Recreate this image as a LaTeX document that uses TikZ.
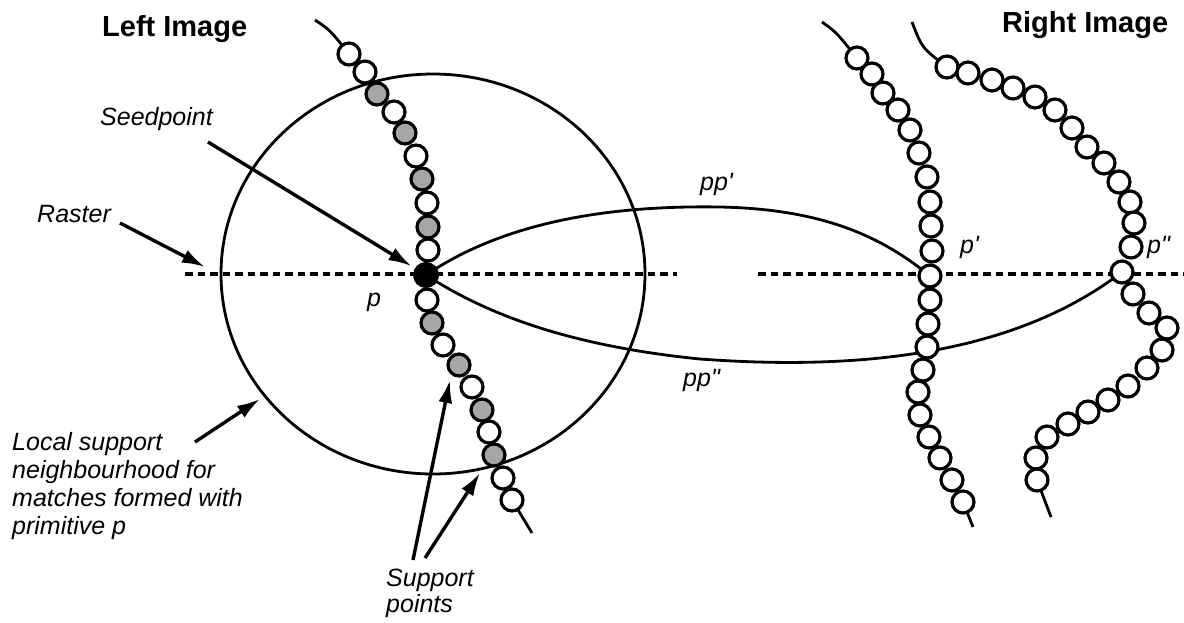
\documentclass[tikz,border=0pt]{standalone}
\usepackage{fontspec}
\setmainfont{Liberation Sans}[Ligatures=TeXOff]
\usetikzlibrary{arrows.meta,shapes.geometric}
\pgfdeclarelayer{bg}
\pgfsetlayers{bg,main}
\begin{document}
\begin{tikzpicture}[x=1pt,y=-1pt,
  bead/.style={circle,draw,line width=3.2pt,minimum size=22pt,inner sep=0pt,fill=white},
  sbead/.style={bead,fill=black!35},
  seedbead/.style={circle,draw,fill=black,line width=1pt,minimum size=25pt,inner sep=0pt},
  wire/.style={line width=2.8pt},
  raster/.style={line width=3.2pt,dash pattern=on 7.5pt off 5pt},
  ptr/.style={line width=3.4pt,-{Latex[length=23pt,width=14pt]}},
  lbl/.style={font=\fontsize{25}{28}\selectfont\itshape,inner sep=0pt},
  ttl/.style={font=\fontsize{29}{34}\selectfont\bfseries,inner sep=0pt}]
\useasboundingbox (0,0) rectangle (1184,622);

% left chain
\foreach \x/\y/\t [count=\i] in {349/54/bead,365/72/bead,377/94/sbead,394/112/bead,405/133/sbead,
  416/156/bead,422/179/sbead,427/203/bead,428/227/sbead,428/250/bead,426/275/seedbead,
  427/300/bead,432/323/sbead,443/345/bead,459/365/sbead,472/387/bead,482/410/sbead,
  489/432/bead,494/455/sbead,503/478/bead,512/500/bead}
  \node[\t] (L\i) at (\x,\y) {};

% right chain 1
\foreach \x/\y [count=\i] in {857/58,872/74,883/93,898/110,910/130,919/153,927/177,930/202,
  931/226,932/251,930/276,930/300,928/324,927/347,923/370,918/392,920/415,929/437,940/458,
  952/480,963/502}
  \node[bead] (A\i) at (\x,\y) {};

% right chain 2
\foreach \x/\y [count=\i] in {947/67,968/73,992/80,1013/88,1035/97,1055/110,1072/128,1087/147,
  1104/163,1119/182,1130/202,1134/223,1131/247,1122/272,1133/294,1149/313,1167/328,1162/350,
  1147/368,1128/386,1108/400,1088/412,1068/424,1047/437,1036/458,1037/480}
  \node[bead] (B\i) at (\x,\y) {};

\coordinate (Ltop) at (315,20);
\coordinate (Lend) at (532,533);
\coordinate (Atop) at (822,22);
\coordinate (Aend) at (973,527);
\coordinate (Btop) at (912,22);
\coordinate (Bend) at (1051,517);
\coordinate (rasL1) at (185,274);
\coordinate (rasL2) at (677,274);
\coordinate (rasR1) at (758,274);
\coordinate (rasR2) at (1184,274);

\begin{pgfonlayer}{bg}
  \node[ellipse,draw,line width=2.8pt,minimum width=424pt,minimum height=400pt,inner sep=0pt]
    (nbhd) at (433,274) {};
  \draw[raster] (rasL1) -- (rasL2);
  \draw[raster] (rasR1) -- (rasR2);
  \draw[wire] (L11.center) .. controls (500,225) and (600,205) .. (720,207)
                           .. controls (820,209) and (880,235) .. (A11.center);
  \draw[wire] (L11.center) .. controls (480,310) and (560,345) .. (700,359)
                           .. controls (850,370) and (1010,358) .. (B14.center);
  \draw[wire] (Ltop) .. controls (330,30) .. (L1.center);
  \draw[wire] (L21.center) -- (Lend);
  \draw[wire] (Atop) .. controls (836,32) .. (A1.center);
  \draw[wire] (A21.center) -- (Aend);
  \draw[wire] (Btop) .. controls (922,48) .. (B1.center);
  \draw[wire] (B26.center) -- (Bend);
\end{pgfonlayer}

% labels
\node[ttl,anchor=base west] (tl) at (102,36) {Left Image};
\node[ttl,anchor=base west] (tr) at (1002,32) {Right Image};
\node[lbl,anchor=base west] (seedlbl) at (100,125) {Seedpoint};
\node[lbl,anchor=base west] (rastlbl) at (37,222) {Raster};
\node[lbl,anchor=base west] (plbl) at (367,306) {p};
\node[lbl,anchor=base west] (pp1lbl) at (700,190) {pp'};
\node[lbl,anchor=base west] (pp2lbl) at (683,386) {pp"};
\node[lbl,anchor=base west] (p1lbl) at (960,253) {p'};
\node[lbl,anchor=base west] (p2lbl) at (1147,253) {p"};
\node[lbl,anchor=north west,align=left] (loclbl) at (12,432)
  {Local support\\neighbourhood for\\matches formed with\\primitive p};
\node[lbl,anchor=north west,align=left,font=\fontsize{25}{26}\selectfont\itshape] (suplbl) at (386,569)
  {Support\\points};

% arrows
\coordinate (seedtail) at (208,142);
\coordinate (rtail) at (120,223);
\coordinate (rtip) at (205,267);
\coordinate (loctail) at (195,442);
\coordinate (loctip) at (260,399);
\coordinate (s1tail) at (413,560);
\coordinate (s1tip) at (450,380);
\coordinate (s2tail) at (425,558);
\coordinate (s2tip) at (480,473);
\draw[ptr,shorten >=4pt] (seedtail) -- (L11);
\draw[ptr] (rtail) -- (rtip);
\draw[ptr] (loctail) -- (loctip);
\draw[ptr] (s1tail) -- (s1tip);
\draw[ptr] (s2tail) -- (s2tip);
\end{tikzpicture}
\end{document}
